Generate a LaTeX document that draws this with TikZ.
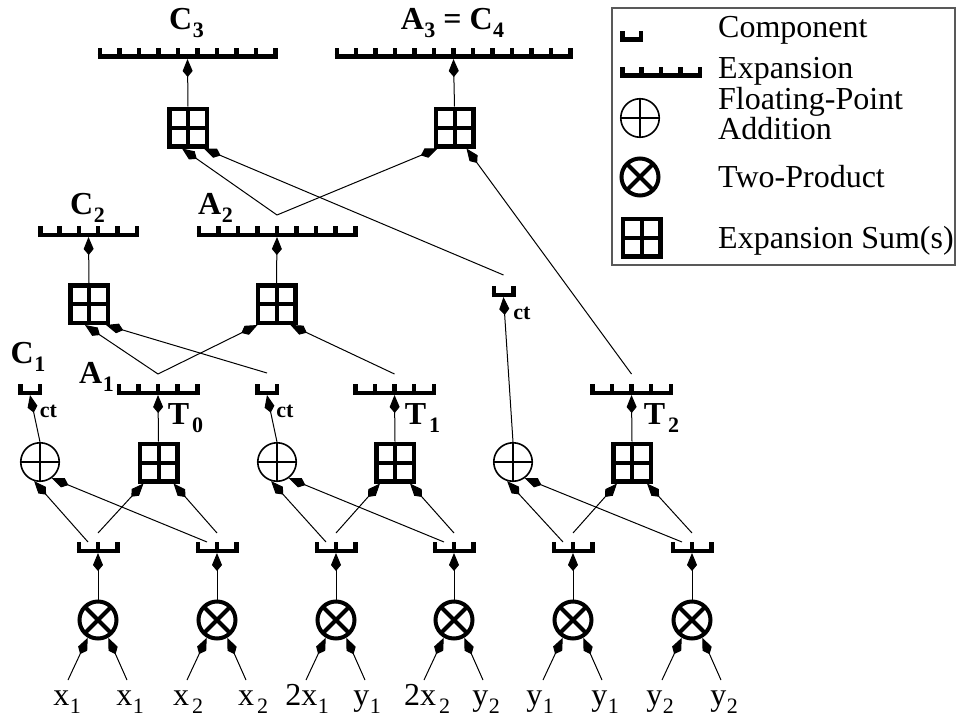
\documentclass[tikz,border=0pt]{standalone}
\usepackage{fontspec}
\setmainfont{Liberation Serif}
\usetikzlibrary{arrows.meta,calc}

\newcommand{\mysub}[1]{\kern0.5pt\raisebox{-8pt}{\fontsize{22}{22}\selectfont #1}}
\newcommand{\mysubg}[1]{\kern3pt\raisebox{-8pt}{\fontsize{22}{22}\selectfont #1}}

% name, centre x, bottom y, width, intervals
\newcommand{\expn}[5]{%
  \node[expnode, minimum width=#4pt, anchor=south] (#1) at (#2,#3) {};
  \foreach \i in {0,...,#5} {
    \draw[glyph] ({#2-#4/2+2.25+\i*(#4-4.5)/#5},#3) -- ++(0,-11);
  }
  \draw[glyph] ({#2-#4/2},{#3-2.25}) -- ({#2+#4/2},{#3-2.25});
}

\tikzset{
  expnode/.style={inner sep=0pt, outer sep=0pt, minimum height=11pt},
  glyph/.style={line width=4.5pt},
  sumbox/.style={draw, rectangle, line width=4.5pt, minimum size=37.5pt, inner sep=0pt,
    path picture={\draw[line width=4pt]
      (path picture bounding box.north) -- (path picture bounding box.south)
      (path picture bounding box.west) -- (path picture bounding box.east);}},
  twoprod/.style={draw, circle, line width=4pt, minimum size=37pt, inner sep=0pt,
    path picture={\draw[line width=4pt]
      (path picture bounding box.south west) -- (path picture bounding box.north east)
      (path picture bounding box.north west) -- (path picture bounding box.south east);}},
  fpadd/.style={draw, circle, line width=1.6pt, minimum size=38.5pt, inner sep=0pt,
    path picture={\draw[line width=1.6pt]
      (path picture bounding box.north) -- (path picture bounding box.south)
      (path picture bounding box.west) -- (path picture bounding box.east);}},
  arr/.style={line width=1pt, -{Kite[length=18pt,width=10pt,inset=6pt]}},
  lbl/.style={inner sep=0pt, font=\fontsize{32}{34}\selectfont},
  blbl/.style={inner sep=0pt, font=\fontsize{32}{34}\selectfont\bfseries},
  ctl/.style={inner sep=0pt, font=\fontsize{22}{22}\selectfont\bfseries},
}

\begin{document}
\begin{tikzpicture}[x=1pt,y=-1pt]
\useasboundingbox (0,0) rectangle (956,717);

% ---------- two-products, components, inputs ----------
\foreach \n/\x in {1/98,2/217,3/336,4/454,5/573,6/692} {
  \node[twoprod] (P\n) at (\x,620) {};
  \expn{K\n}{\x}{553}{43}{2}
  \coordinate (s\n a) at (\x-30,680);
  \coordinate (s\n b) at (\x+29,680);
  \draw[arr] (s\n a) -- (P\n.240);
  \draw[arr] (s\n b) -- (P\n.300);
  \draw[arr] (P\n.north) -- (K\n.south);
}

\node[lbl, anchor=base] (L1) at (67,705) {x\mysub{1}};
\node[lbl, anchor=base] (L2) at (130,705) {x\mysub{1}};
\node[lbl, anchor=base] (L3) at (188,705) {x\mysubg{2}};
\node[lbl, anchor=base] (L4) at (253,705) {x\mysubg{2}};
\node[lbl, anchor=base] (L5) at (307,705) {2x\mysub{1}};
\node[lbl, anchor=base] (L6) at (367,705) {y\mysub{1}};
\node[lbl, anchor=base] (L7) at (427,705) {2x\mysubg{2}};
\node[lbl, anchor=base] (L8) at (486,705) {y\mysub{2}};
\node[lbl, anchor=base] (L9) at (540,705) {y\mysub{1}};
\node[lbl, anchor=base] (L10) at (605,705) {y\mysub{1}};
\node[lbl, anchor=base] (L11) at (660,705) {y\mysub{2}};
\node[lbl, anchor=base] (L12) at (724,705) {y\mysub{2}};

% ---------- floating-point additions and expansion sums ----------
\node[fpadd] (F1) at (40,462) {};
\node[fpadd] (F2) at (277,462) {};
\node[fpadd] (F3) at (513,462) {};
\node[sumbox] (S1) at (158.5,462.5) {};
\node[sumbox] (S2) at (395,462.5) {};
\node[sumbox] (S3) at (632,462.5) {};

\foreach \a/\b/\f/\s in {1/2/F1/S1, 3/4/F2/S2, 5/6/F3/S3} {
  \draw[arr] ([xshift=-10pt]K\a.north) -- (\f.253);
  \draw[arr] ([xshift=-10pt]K\b.north) -- (\f.306);
  \draw[arr] ([yshift=9pt]K\a.north) -- ([xshift=6pt]\s.south west);
  \draw[arr] ([yshift=9pt]K\b.north) -- ([xshift=-6pt]\s.south east);
}

% ---------- ct components and T expansions ----------
\expn{Ct1}{30}{395}{24}{1}
\expn{Ct2}{267}{395}{24}{1}
\expn{Ct3}{503.5}{297}{24}{1}
\expn{T0}{158}{395}{83}{4}
\expn{T1}{394.5}{395}{83}{4}
\expn{T2}{631.5}{395}{83}{4}

\draw[arr] (F1.north) -- (Ct1.south);
\draw[arr] (F2.north) -- (Ct2.south);
\draw[arr] (F3.north) -- (Ct3.south);
\draw[arr] (S1.north) -- (T0.south);
\draw[arr] (S2.north) -- (T1.south);
\draw[arr] (S3.north) -- (T2.south);

\node[ctl, anchor=base] (ct1) at (48.5,417) {ct};
\node[ctl, anchor=base] (ct2) at (285,417) {ct};
\node[ctl, anchor=base] (ct3) at (522,319) {ct};
\node[blbl, anchor=base] (lC1) at (28,363) {C\mysub{1}};
\node[blbl, anchor=base] (lA1) at (96.5,383) {A\mysub{1}};
\node[blbl, anchor=base] (lT0) at (185.5,424) {T\mysubg{0}};
\node[blbl, anchor=base] (lT1) at (422.5,424) {T\mysubg{1}};
\node[blbl, anchor=base] (lT2) at (661.5,424) {T\mysubg{2}};

% ---------- second level ----------
\node[sumbox] (B1) at (89,304) {};
\node[sumbox] (B2) at (276.5,304) {};
\expn{C2}{88.5}{237}{101}{5}
\expn{A2}{277}{237}{161}{8}
\draw[arr] (B1.north) -- (C2.south);
\draw[arr] (B2.north) -- (A2.south);
\draw[arr] ([yshift=10pt]T0.north) -- ([xshift=-4pt]B1.south);
\draw[arr] ([yshift=10pt]T0.north) -- ([xshift=2pt]B2.south west);
\draw[arr] ([yshift=11pt]Ct2.north) -- ([xshift=-4pt]B1.south east);
\draw[arr] ([yshift=10pt]T1.north) -- ([xshift=-7pt]B2.south east);
\node[blbl, anchor=base] (lC2) at (87.5,214) {C\mysub{2}};
\node[blbl, anchor=base] (lA2) at (215.5,214) {A\mysub{2}};

% ---------- top level ----------
\node[sumbox] (B3) at (188,127.5) {};
\node[sumbox] (B4) at (454.5,127.5) {};
\expn{C3}{187.5}{59}{180}{9}
\expn{A3}{453.5}{59}{238}{12}
\draw[arr] (B3.north) -- (C3.south);
\draw[arr] (B4.north) -- (A3.south);
\draw[arr] ([yshift=11pt]A2.north) -- ([xshift=-6pt]B3.south);
\draw[arr] ([yshift=11pt]A2.north) -- ([xshift=4pt]B4.south west);
\draw[arr] ([yshift=11pt]Ct3.north) -- ([xshift=-5pt]B3.south east);
\draw[arr] ([yshift=10pt]T2.north) -- ([xshift=-9pt]B4.south east);
\node[blbl, anchor=base] (lC3) at (186.5,30) {C\mysub{3}};
\node[blbl, anchor=base] (lA3) at (452.5,30) {A\mysub{3} = C\mysub{4}};

% ---------- legend ----------
\draw[gray!70!black, line width=1.5pt] (612,8) rectangle (955,265);
\expn{LgC}{631.5}{42}{23}{1}
\expn{LgE}{661}{78}{82}{4}
\node[fpadd] (LgF) at (640,118) {};
\node[twoprod] (LgP) at (640,177) {};
\node[sumbox] (LgS) at (641.5,237.5) {};
\node[lbl, anchor=base west] (tC) at (718,38) {Component};
\node[lbl, anchor=base west] (tE) at (718,78) {Expansion};
\node[lbl, anchor=south west, align=left, font=\fontsize{32}{27}\selectfont] (tF) at (718,140) {Floating-Point\\Addition};
\node[lbl, anchor=base west] (tP) at (718,187) {Two-Product};
\node[lbl, anchor=base west] (tS) at (718,248) {Expansion Sum(s)};
\end{tikzpicture}
\end{document}
